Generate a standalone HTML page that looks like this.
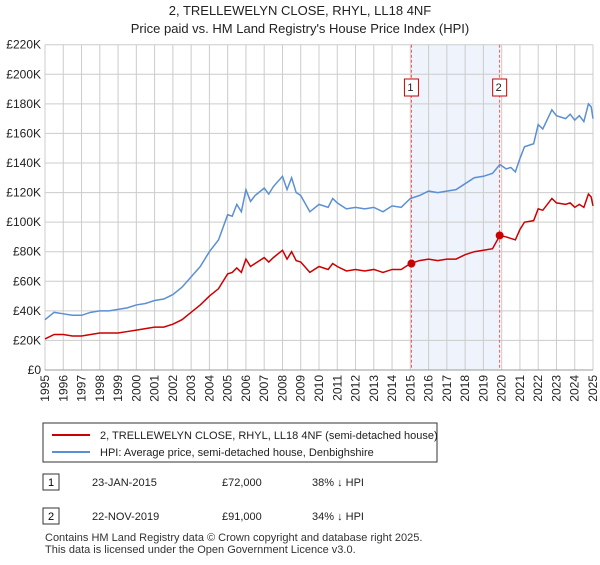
<!DOCTYPE html>
<html><head><meta charset="utf-8"><style>
body{margin:0;background:#fff;font-family:"Liberation Sans","DejaVu Sans",sans-serif;}
svg text{font-family:"Liberation Sans","DejaVu Sans",sans-serif;}
</style></head><body>
<svg id="c" width="600" height="560" xmlns="http://www.w3.org/2000/svg">
<text x="300" y="15" text-anchor="middle" font-size="13" fill="#222">2, TRELLEWELYN CLOSE, RHYL, LL18 4NF</text>
<text x="300" y="33" text-anchor="middle" font-size="13" fill="#222">Price paid vs. HM Land Registry's House Price Index (HPI)</text>
<g id="grid"></g><g id="axes"></g><g id="series"></g>
<rect x="43" y="423" width="394" height="39" fill="#fff" stroke="#333"/>
<line x1="52" y1="435" x2="90" y2="435" stroke="#cc0000" stroke-width="2"/>
<text x="100" y="439" font-size="11" fill="#222">2, TRELLEWELYN CLOSE, RHYL, LL18 4NF (semi-detached house)</text>
<line x1="52" y1="452" x2="90" y2="452" stroke="#5b8fd4" stroke-width="2"/>
<text x="100" y="456" font-size="11" fill="#222">HPI: Average price, semi-detached house, Denbighshire</text>
<g>
<rect x="43" y="474" width="16" height="16" fill="#fff" stroke="#333"/><text x="51" y="486" text-anchor="middle" font-size="11">1</text>
<text x="92" y="486" font-size="11" fill="#222">23-JAN-2015</text><text x="222" y="486" font-size="11" fill="#222">£72,000</text><text x="312" y="486" font-size="11" fill="#222">38% ↓ HPI</text></g>
<g>
<rect x="43" y="508" width="16" height="16" fill="#fff" stroke="#333"/><text x="51" y="520" text-anchor="middle" font-size="11">2</text>
<text x="92" y="520" font-size="11" fill="#222">22-NOV-2019</text><text x="222" y="520" font-size="11" fill="#222">£91,000</text><text x="312" y="520" font-size="11" fill="#222">34% ↓ HPI</text></g>
<text x="45" y="541" font-size="11" fill="#333">Contains HM Land Registry data © Crown copyright and database right 2025.</text>
<text x="45" y="553" font-size="11" fill="#333">This data is licensed under the Open Government Licence v3.0.</text>
</svg>
<script>
const hpiYears=[1995,1995.5,1996,1996.5,1997,1997.5,1998,1998.5,1999,1999.5,2000,2000.5,2001,2001.5,2002,2002.5,2003,2003.5,2004,2004.5,2005,2005.25,2005.5,2005.75,2006,2006.25,2006.5,2007,2007.25,2007.5,2008,2008.25,2008.5,2008.75,2009,2009.5,2010,2010.5,2010.75,2011,2011.5,2012,2012.5,2013,2013.5,2014,2014.5,2015,2015.5,2016,2016.5,2017,2017.5,2018,2018.5,2019,2019.5,2019.9,2020.25,2020.5,2020.75,2021,2021.25,2021.75,2022,2022.25,2022.75,2023,2023.5,2023.75,2024,2024.25,2024.5,2024.75,2024.9,2025];
const hpiValues=[34,39,38,37,37,39,40,40,41,42,44,45,47,48,51,56,63,70,80,88,105,104,112,107,122,114,118,123,119,124,131,122,130,120,118,107,112,110,116,113,109,110,109,110,107,111,110,116,118,121,120,121,122,126,130,131,133,139,136,137,134,143,151,153,166,163,176,172,170,173,169,172,168,180,178,170];
const priceValues=[21,24,24,23,23,24,25,25,25,26,27,28,29,29,31,34,39,44,50,55,65,66,69,66,75,70,72,76,73,76,81,75,80,74,73,66,70,68,72,70,67,68,67,68,66,68,68,72,74,75,74,75,75,78,80,81,82,91,90,89,88,95,100,101,109,108,116,113,112,113,110,112,110,119,117,111];
const saleYears=[2015.06,2019.89];
const saleValues=[72,91];
const saleLabels=["1","2"];
const yTicks=[0,20,40,60,80,100,120,140,160,180,200,220];
const xTicks=[1995,1996,1997,1998,1999,2000,2001,2002,2003,2004,2005,2006,2007,2008,2009,2010,2011,2012,2013,2014,2015,2016,2017,2018,2019,2020,2021,2022,2023,2024,2025];
const L=45,R=593,T=44.7,B=370;
const x=v=>L+(v-1995)/30*(R-L);
const y=v=>B-v/220*(B-T);
const NS="http://www.w3.org/2000/svg";
function mk(p,t,a){const e=document.createElementNS(NS,t);for(const k in a)e.setAttribute(k,a[k]);p.appendChild(e);return e;}
const g=document.getElementById('grid'),ax=document.getElementById('axes'),s=document.getElementById('series');
const sh=mk(g,'rect',{x:x(saleYears[0]),y:T,width:x(saleYears[1])-x(saleYears[0]),height:B-T,fill:'#eef3fc'});


yTicks.forEach(v=>{
 const l=mk(g,'line',{x1:L,x2:R,y1:y(v),y2:y(v),stroke:'#ccc'});
 
 
 const t=mk(ax,'text',{x:L-4,y:y(v)+4,'text-anchor':'end','font-size':12,fill:'#222'});
 
 
 t.textContent=v===0?'£0':'£'+v+'K';
});
xTicks.forEach(v=>{
 const l=mk(g,'line',{x1:x(v),x2:x(v),y1:T,y2:B,stroke:'#ccc'});
 
 
 const t=mk(ax,'text',{x:0,y:0,'text-anchor':'end','font-size':12,fill:'#222',transform:`translate(${x(v)+4},${B+5}) rotate(-90)`});
 
 
 t.textContent=v;
});
saleYears.forEach((v,i)=>{
 const l=mk(g,'line',{x1:x(v),x2:x(v),y1:T,y2:B,stroke:'#e55','stroke-dasharray':'3,2'});
 
 
 const r=mk(s,'rect',{x:x(v)-7,y:79,width:14,height:17,fill:'#fff',stroke:'#cc0000'});
 
 
 const t=mk(s,'text',{x:x(v)-1,y:91,'text-anchor':'middle','font-size':11,fill:'#222'});
 
 
 t.textContent=saleLabels[i];
});
const ph=mk(s,'path',{d:hpiYears.map((v,i)=>(i?'L':'M')+x(v)+','+y(hpiValues[i])).join(''),fill:'none',stroke:'#5b8fd4','stroke-width':1.5});


const pp=mk(s,'path',{d:hpiYears.map((v,i)=>(i?'L':'M')+x(v)+','+y(priceValues[i])).join(''),fill:'none',stroke:'#cc0000','stroke-width':1.5});


saleYears.forEach((v,i)=>{
 const c=mk(s,'circle',{cx:x(v),cy:y(saleValues[i]),r:4,fill:'#cc0000'});
 
 
});
const bx=mk(ax,'line',{x1:L,x2:R,y1:B,y2:B,stroke:'#999'});


</script>
</body></html>
